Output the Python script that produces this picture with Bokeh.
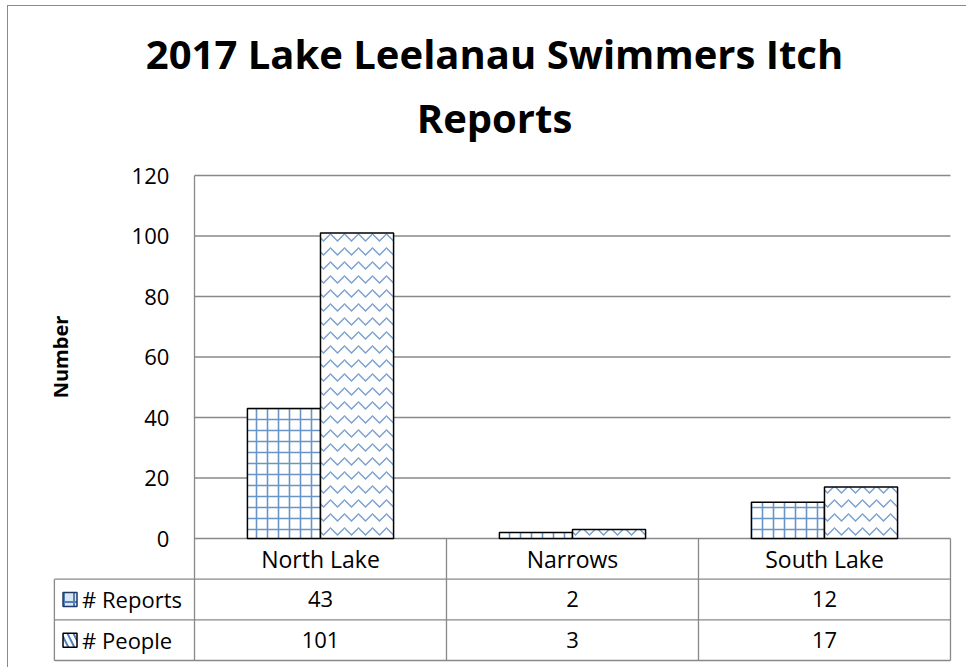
import math
from bokeh.plotting import figure
from bokeh.models import Range1d
from bokeh.embed import file_html
from bokeh.resources import INLINE
from bokeh.core.properties import value

# ---- data ----
categories = ["North Lake", "Narrows", "South Lake"]
reports = [43, 2, 12]
people = [101, 3, 17]
series_names = ["# Reports", "# People"]
y_ticks = [0, 20, 40, 60, 80, 100, 120]
title_lines = ["2017 Lake Leelanau Swimmers Itch", "Reports"]
y_label = "Number"

# ---- style / layout ----
FONT = "Open Sans"
GRID = "#888888"
BLUE = "#4F81BD"
BAR_W = 0.29      # width of one bar in category units
ROW_H = 13.44     # data-table row height in y units
LEG_W = 0.556     # legend column width in category units
PX_Y = 3.025      # pixels per y unit
n = len(categories)
ymax = y_ticks[-1]
X0, X1 = -0.627, 3.008
Y0, Y1 = -41.32, ymax + 169 / PX_Y

p = figure(width=959, height=662,
           x_range=Range1d(X0, X1), y_range=Range1d(Y0, Y1),
           x_axis_type=None, y_axis_type=None,
           output_backend="svg", toolbar_location=None, title=None,
           min_border_left=28, min_border_right=15,
           min_border_top=0, min_border_bottom=5)
p.outline_line_color = None
p.styles = {"border-top": "1px solid #8a8a8a", "border-left": "1px solid #8a8a8a",
            "margin-left": "7px", "margin-top": "5px"}

# chart title (two lines)
p.text(x=(X0 + X1) / 2, y=[ymax + 122 / PX_Y, ymax + 58 / PX_Y], text=title_lines,
       text_align="center", text_baseline="alphabetic", text_font=value(FONT),
       text_font_size="40px", text_font_style="bold", text_color="black")

# gridlines
p.segment(x0=0, x1=n, y0=y_ticks, y1=y_ticks, line_color=GRID, line_width=1.3)
# value axis line (continues down through the table)
p.segment(x0=0, x1=0, y0=-3 * ROW_H, y1=ymax, line_color=GRID, line_width=1.3)

# table lines
rows_y = [-ROW_H, -2 * ROW_H, -3 * ROW_H]
p.segment(x0=-LEG_W, x1=n, y0=rows_y, y1=rows_y, line_color=GRID, line_width=1.3)
cols_x = list(range(1, n + 1))
p.segment(x0=cols_x, x1=cols_x, y0=-3 * ROW_H, y1=0, line_color=GRID, line_width=1.3)
p.segment(x0=-LEG_W, x1=-LEG_W, y0=-3 * ROW_H, y1=-ROW_H, line_color=GRID, line_width=1.3)

# bars
xs_r = [i + 0.5 - BAR_W / 2 for i in range(n)]
xs_p = [i + 0.5 + BAR_W / 2 for i in range(n)]
p.vbar(x=xs_r, top=reports, bottom=0, width=BAR_W, fill_color="white",
       line_color="black", line_width=1.5, hatch_pattern="cross",
       hatch_color=BLUE, hatch_scale=11, hatch_weight=1.6, hatch_alpha=0.85)
p.vbar(x=xs_p, top=people, bottom=0, width=BAR_W, fill_color="white",
       line_color="black", line_width=1.5, hatch_pattern="horizontal_wave",
       hatch_color=BLUE, hatch_scale=14, hatch_weight=1.5, hatch_alpha=0.75)

# y tick labels
p.text(x=-0.1, y=y_ticks, text=[str(t) for t in y_ticks], text_align="right",
       text_baseline="middle", text_font=value(FONT), text_font_size="22px",
       text_color="black")
# y axis title
p.text(x=-LEG_W + 0.025, y=ymax / 2, text=[y_label], angle=math.pi / 2,
       text_align="center", text_baseline="middle", text_font=value(FONT),
       text_font_size="20px", text_font_style="bold", text_color="black")

# category header row
cx = [i + 0.5 for i in range(n)]
p.text(x=cx, y=-ROW_H / 2, text=categories, text_align="center",
       text_baseline="middle", text_font=value(FONT), text_font_size="23px",
       text_color="black")
# data rows
p.text(x=cx, y=-1.5 * ROW_H, text=[str(v) for v in reports], text_align="center",
       text_baseline="middle", text_font=value(FONT), text_font_size="22px",
       text_color="black")
p.text(x=cx, y=-2.5 * ROW_H, text=[str(v) for v in people], text_align="center",
       text_baseline="middle", text_font=value(FONT), text_font_size="22px",
       text_color="black")

# legend keys + names
p.scatter(x=-LEG_W + 0.062, y=-1.5 * ROW_H, marker="square", size=14,
          fill_color="#dce6f2", line_color="#1f3864", line_width=1.5,
          hatch_pattern="cross", hatch_color=BLUE, hatch_scale=10, hatch_weight=2)
p.scatter(x=-LEG_W + 0.062, y=-2.5 * ROW_H, marker="square", size=14,
          fill_color="white", line_color="black", line_width=1.5,
          hatch_pattern="left_diagonal_line", hatch_color=BLUE, hatch_scale=12,
          hatch_weight=2)
p.text(x=-LEG_W + 0.11, y=[-1.5 * ROW_H, -2.5 * ROW_H], text=series_names,
       text_align="left", text_baseline="middle", text_font=value(FONT),
       text_font_size="22px", text_color="black")

open("out.html", "w").write(file_html(p, INLINE))
